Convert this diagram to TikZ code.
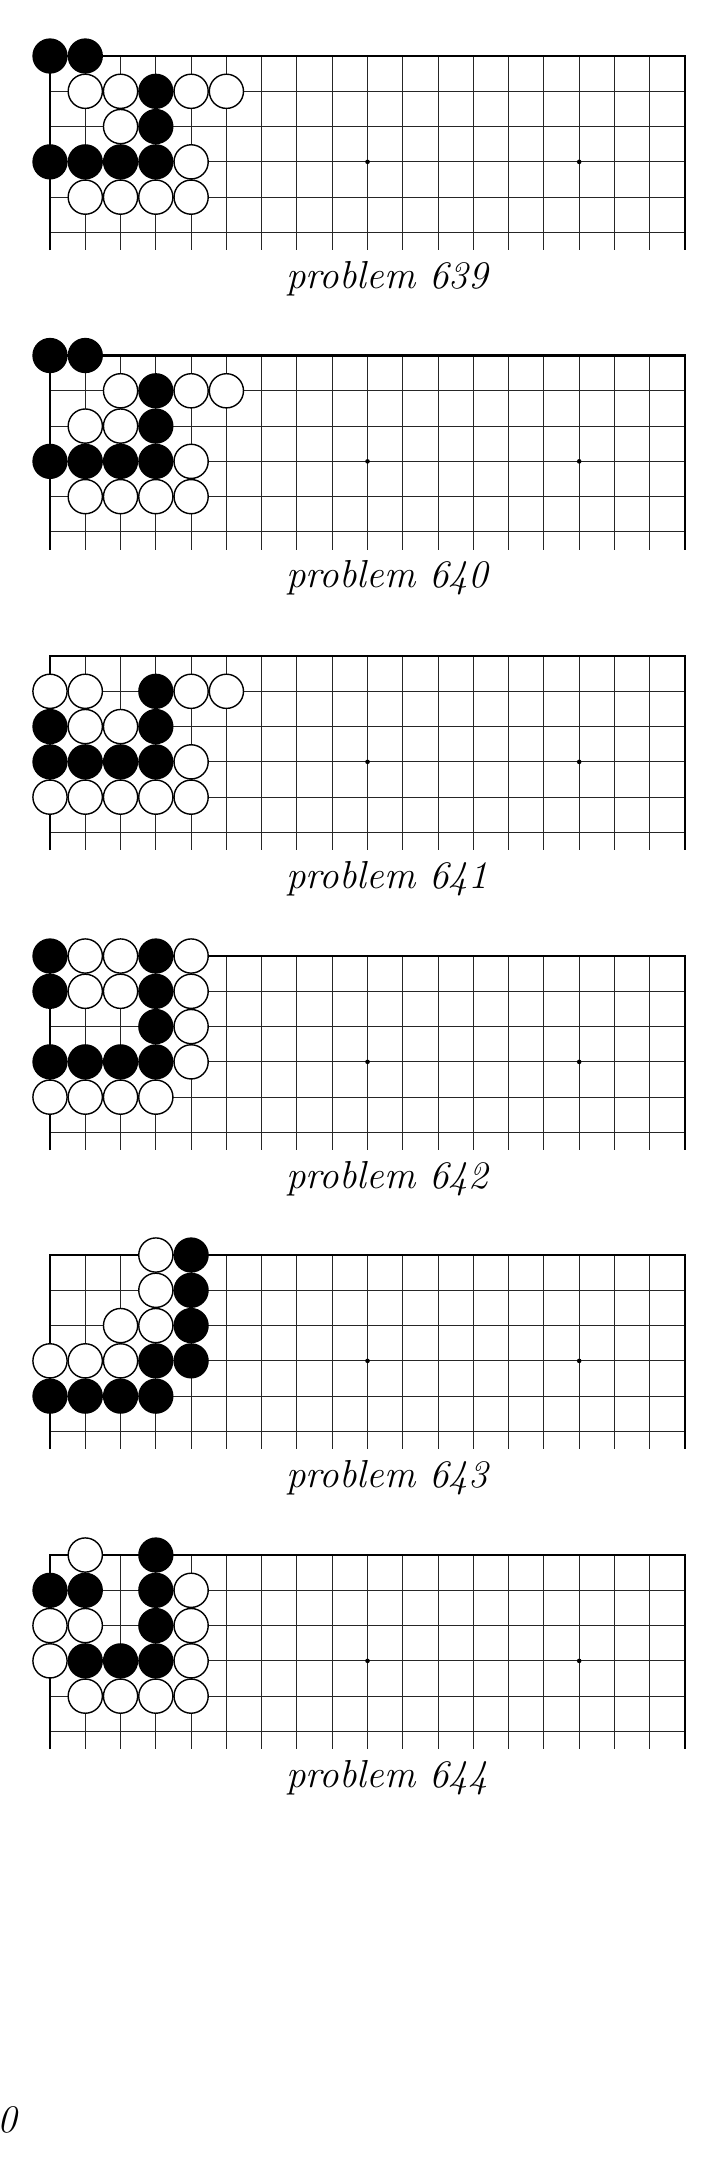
\documentclass[tikz,border=0pt]{standalone}
\usetikzlibrary{positioning}

\begin{document}
\begin{tikzpicture}[
    board/.style={shift={(0.5cm,-#1 cm)}, x=0.3528cm, y=-0.3528cm},
    gridline/.style={line width=0.3pt, black!85},
    edge/.style={line width=0.65pt, black},
    bs/.style={circle, fill=black, inner sep=0pt, minimum size=0.353cm},
    ws/.style={circle, draw=black, fill=white, line width=0.4pt, inner sep=0pt,
               minimum size=0.342cm},
    probcap/.style={font=\fontsize{11.1}{13}\selectfont\itshape, inner sep=0pt}]
  \useasboundingbox (0,0) rectangle (7.25,-21.81);
  % empty boards with captions
  \foreach \top/\num in {0.56/639, 3.555/640, 6.56/641, 9.56/642, 12.55/643, 15.55/644}{
    \begin{scope}[board=\top]
      \foreach \r in {1,...,5} \draw[gridline] (0,\r) -- (18,\r);
      \foreach \c in {1,...,17} \draw[gridline] (\c,0) -- (\c,5.5);
      \draw[edge] (0,5.5) -- (0,0) -- (18,0) -- (18,5.5);
      \fill (9,3) circle (0.065) (15,3) circle (0.065);
      \node[probcap, anchor=base] (cap\num) at (9.55,6.58) {problem \num};
    \end{scope}
  }
  % problem 639
  \begin{scope}[board=0.56]
    \foreach \c/\r [count=\i] in {0/0,1/0,3/1,3/2,0/3,1/3,2/3,3/3}
      \node[bs] (a\i) at (\c,\r) {};
    \foreach \c/\r [count=\i] in {1/1,2/1,4/1,5/1,2/2,4/3,1/4,2/4,3/4,4/4}
      \node[ws] (aw\i) at (\c,\r) {};
  \end{scope}
  % problem 640
  \begin{scope}[board=3.555]
    \foreach \c/\r [count=\i] in {0/0,1/0,3/1,3/2,0/3,1/3,2/3,3/3}
      \node[bs] (b\i) at (\c,\r) {};
    \foreach \c/\r [count=\i] in {2/1,4/1,5/1,1/2,2/2,4/3,1/4,2/4,3/4,4/4}
      \node[ws] (bw\i) at (\c,\r) {};
  \end{scope}
  % problem 641
  \begin{scope}[board=6.56]
    \foreach \c/\r [count=\i] in {3/1,0/2,3/2,0/3,1/3,2/3,3/3}
      \node[bs] (c\i) at (\c,\r) {};
    \foreach \c/\r [count=\i] in {0/1,1/1,4/1,5/1,1/2,2/2,4/3,0/4,1/4,2/4,3/4,4/4}
      \node[ws] (cw\i) at (\c,\r) {};
  \end{scope}
  % problem 642
  \begin{scope}[board=9.56]
    \foreach \c/\r [count=\i] in {0/0,3/0,0/1,3/1,3/2,0/3,1/3,2/3,3/3}
      \node[bs] (d\i) at (\c,\r) {};
    \foreach \c/\r [count=\i] in {1/0,2/0,4/0,1/1,2/1,4/1,4/2,4/3,0/4,1/4,2/4,3/4}
      \node[ws] (dw\i) at (\c,\r) {};
  \end{scope}
  % problem 643
  \begin{scope}[board=12.55]
    \foreach \c/\r [count=\i] in {4/0,4/1,4/2,3/3,4/3,0/4,1/4,2/4,3/4}
      \node[bs] (e\i) at (\c,\r) {};
    \foreach \c/\r [count=\i] in {3/0,3/1,2/2,3/2,0/3,1/3,2/3}
      \node[ws] (ew\i) at (\c,\r) {};
  \end{scope}
  % problem 644
  \begin{scope}[board=15.55]
    \foreach \c/\r [count=\i] in {3/0,0/1,1/1,3/1,3/2,1/3,2/3,3/3}
      \node[bs] (f\i) at (\c,\r) {};
    \foreach \c/\r [count=\i] in {1/0,4/1,0/2,1/2,4/2,0/3,4/3,1/4,2/4,3/4,4/4}
      \node[ws] (fw\i) at (\c,\r) {};
  \end{scope}
  \node[probcap, anchor=base east] (pagenum) at (0.175,-21.32) {0};
\end{tikzpicture}
\end{document}
